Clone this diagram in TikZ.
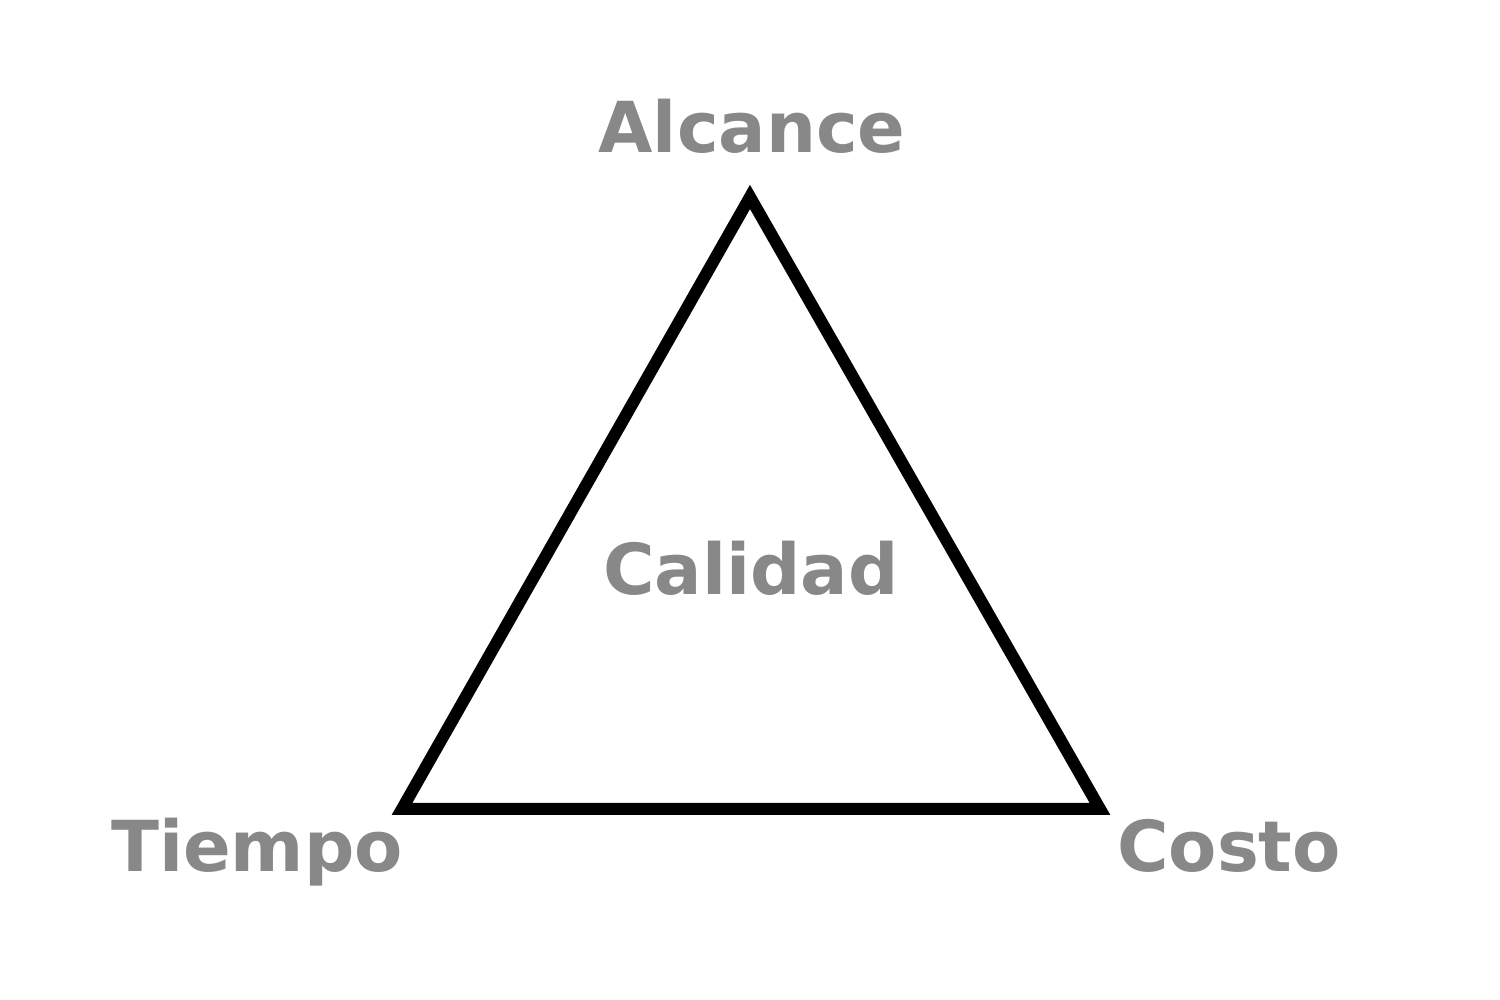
\documentclass[tikz,border=0pt]{standalone}
\usepackage{fontspec}
\setmainfont{DejaVu Sans}
\usepackage{tikz}
\usetikzlibrary{calc}
\definecolor{labelgray}{HTML}{888888}

\begin{document}
\begin{tikzpicture}
            \tikzset{label text/.style={text=labelgray, font=\bfseries\fontsize{20}{24}\selectfont, inner sep=0pt, anchor=base}}
            \useasboundingbox (0,0) rectangle (15,10);
            \coordinate (alc) at (7.5, 8.03);
            \coordinate (tie) at (4.02, 1.91);
            \coordinate (cos) at (11.0, 1.91);
            \draw[line width=0.12cm, miter limit=10] (tie) -- (alc) -- (cos) -- cycle;
            \node[label text] (alcance) at (7.52, 8.47) {Alcance};
            \node[label text] (calidad) at (7.51, 4.05) {Calidad};
            \node[label text] (tiempo) at (2.57, 1.28) {Tiempo};
            \node[label text] (costo) at (12.29, 1.28) {Costo};
          \end{tikzpicture}
\end{document}
